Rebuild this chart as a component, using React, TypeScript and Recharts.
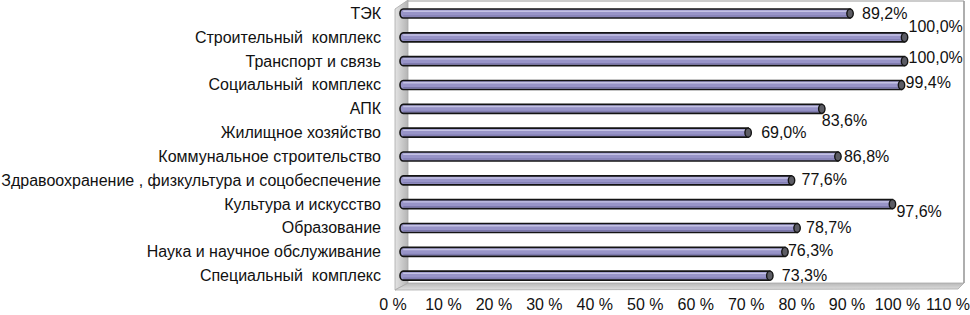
import React from "react";
import { BarChart, Bar, XAxis, YAxis, LabelList, Customized } from "recharts";

const categories = [
  "ТЭК",
  "Строительный  комплекс",
  "Транспорт и связь",
  "Социальный  комплекс",
  "АПК",
  "Жилищное хозяйство",
  "Коммунальное строительство",
  "Здравоохранение , физкультура и соцобеспечение",
  "Культура и искусство",
  "Образование",
  "Наука и научное обслуживание",
  "Специальный  комплекс",
];

const values = [89.2, 100.0, 100.0, 99.4, 83.6, 69.0, 86.8, 77.6, 97.6, 78.7, 76.3, 73.3];

const xTicks = [0, 10, 20, 30, 40, 50, 60, 70, 80, 90, 100, 110];

const data = categories.map((name, i) => ({ name, value: values[i] }));

// label nudges (Excel placed a few labels off-centre to avoid overlap)
const labelNudge: { dx: number; dy: number }[] = [
  { dx: 12, dy: 0 },
  { dx: 4, dy: -10 },
  { dx: 4, dy: -3 },
  { dx: 4, dy: -2 },
  { dx: 0, dy: 12 },
  { dx: 13, dy: 0 },
  { dx: 6, dy: 0 },
  { dx: 10, dy: 0 },
  { dx: 4, dy: 8 },
  { dx: 9, dy: 0 },
  { dx: 3, dy: -1 },
  { dx: 12, dy: 0 },
];

const FONT = "Arial, 'Liberation Sans', sans-serif";
const W = 970;
const H = 315;
const margin = { top: 2, right: 15, bottom: 0, left: 0 };
const xAxisHeight = 27;
const yAxisWidth = 400;

const CylinderBar = (props: any) => {
  const { x, y, width, height } = props;
  const r = height / 2;
  const rx = 3.2;
  const cy = y + r;
  const end = x + width;
  const body = `M ${x + rx} ${y} L ${end} ${y} L ${end} ${y + height} L ${x + rx} ${y + height} A ${rx} ${r} 0 0 1 ${x + rx} ${y} Z`;
  return (
    <g>
      <path d={body} fill="#9894c8" stroke="#141414" strokeWidth={1.6} />
      <line x1={x + rx} x2={end} y1={y + 2.2} y2={y + 2.2} stroke="#c4c2e4" strokeWidth={1.4} />
      <line x1={x + rx} x2={end} y1={y + height - 2} y2={y + height - 2} stroke="#7a76aa" strokeWidth={1} />
      <ellipse cx={end} cy={cy} rx={rx} ry={r} fill="#5c5c64" stroke="#141414" strokeWidth={1.4} />
    </g>
  );
};

const Frame = () => {
  const left = yAxisWidth + margin.left - 5;
  const top = margin.top;
  const bottom = H - margin.bottom - xAxisHeight;
  const right = W - margin.right + 9;
  const depth = 13;
  return (
    <g>
      <defs>
        <linearGradient id="wall" x1="0" y1="0" x2="1" y2="0">
          <stop offset="0%" stopColor="#e4e4e4" />
          <stop offset="100%" stopColor="#b4b4b4" />
        </linearGradient>
        <linearGradient id="floor" x1="0" y1="0" x2="0" y2="1">
          <stop offset="0%" stopColor="#b8b8b8" />
          <stop offset="100%" stopColor="#e0e0e0" />
        </linearGradient>
      </defs>
      <polygon
        points={`${left},${top + 7} ${left + depth},${top - 2} ${left + depth},${bottom - 5} ${left},${bottom + 2}`}
        fill="url(#wall)"
        stroke="#a8a8a8"
        strokeWidth={0.8}
      />
      <polygon
        points={`${left},${bottom + 2} ${left + depth},${bottom - 5} ${right},${bottom - 5} ${right - 6},${bottom + 1}`}
        fill="url(#floor)"
        stroke="#a8a8a8"
        strokeWidth={0.8}
      />
      <line x1={left + depth} x2={right} y1={top - 1} y2={top - 1} stroke="#9a9a9a" strokeWidth={1.2} />
      <line x1={right} x2={right} y1={top - 1} y2={bottom - 5} stroke="#9a9a9a" strokeWidth={1.6} />
    </g>
  );
};

const CategoryTick = (props: any) => {
  const { y, payload } = props;
  return (
    <text
      x={381}
      y={y}
      dy={5}
      textAnchor="end"
      fontSize={16}
      fontFamily={FONT}
      fill="#111"
      style={{ whiteSpace: "pre" }}
    >
      {payload.value}
    </text>
  );
};

const PercentTick = (props: any) => {
  const { x, y, payload } = props;
  return (
    <text x={x - 7} y={y} dy={14} textAnchor="middle" fontSize={16} fontFamily={FONT} fill="#111">
      {`${payload.value} %`}
    </text>
  );
};

const ValueLabel = (props: any) => {
  const { x, y, width, height, value, index } = props;
  const n = labelNudge[index] || { dx: 6, dy: 0 };
  return (
    <text
      x={x + width + n.dx}
      y={y + height / 2 + n.dy}
      dy={5}
      textAnchor="start"
      fontSize={16}
      fontFamily={FONT}
      fill="#111"
    >
      {`${Number(value).toFixed(1).replace(".", ",")}%`}
    </text>
  );
};

export default function App() {
  return (
    <div style={{ position: "absolute", left: 0, top: 0, width: W, height: H, background: "#fff" }}>
      <BarChart width={W} height={H} data={data} layout="vertical" margin={margin} barSize={9}>
        <Customized component={<Frame />} />
        <XAxis
          type="number"
          domain={[0, 110]}
          ticks={xTicks}
          axisLine={false}
          tickLine={false}
          tick={<PercentTick />}
          height={xAxisHeight}
          interval={0}
        />
        <YAxis
          type="category"
          dataKey="name"
          width={yAxisWidth}
          axisLine={false}
          tickLine={false}
          tick={<CategoryTick />}
          interval={0}
        />
        <Bar dataKey="value" shape={<CylinderBar />} isAnimationActive={false}>
          <LabelList dataKey="value" content={<ValueLabel />} />
        </Bar>
      </BarChart>
    </div>
  );
}
